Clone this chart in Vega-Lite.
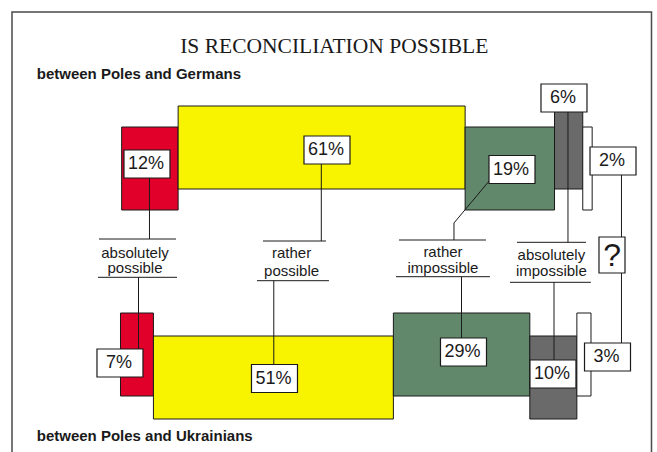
{
  "$schema": "https://vega.github.io/schema/vega-lite/v6.json",
  "width": 657,
  "height": 452,
  "autosize": {"type": "none"},
  "padding": 0,
  "background": "white",
  "view": {"stroke": null},
  "config": {"text": {"font": "Liberation Sans", "color": "#1a1a1a"}},
  "data": {
    "values": [
      {"group": "between Poles and Germans", "answer": "absolutely possible", "pct": 12, "order": 0},
      {"group": "between Poles and Germans", "answer": "rather possible", "pct": 61, "order": 1},
      {"group": "between Poles and Germans", "answer": "rather impossible", "pct": 19, "order": 2},
      {"group": "between Poles and Germans", "answer": "absolutely impossible", "pct": 6, "order": 3},
      {"group": "between Poles and Germans", "answer": "hard to say", "pct": 2, "order": 4},
      {"group": "between Poles and Ukrainians", "answer": "absolutely possible", "pct": 7, "order": 0},
      {"group": "between Poles and Ukrainians", "answer": "rather possible", "pct": 51, "order": 1},
      {"group": "between Poles and Ukrainians", "answer": "rather impossible", "pct": 29, "order": 2},
      {"group": "between Poles and Ukrainians", "answer": "absolutely impossible", "pct": 10, "order": 3},
      {"group": "between Poles and Ukrainians", "answer": "hard to say", "pct": 3, "order": 4}
    ]
  },
  "transform": [
    {"window": [{"op": "sum", "field": "pct", "as": "cum"}], "groupby": ["group"], "sort": [{"field": "order"}], "frame": [null, 0]},
    {"calculate": "datum.group === 'between Poles and Germans' ? 0 : 1", "as": "g"},
    {"calculate": "datum.g === 0 ? 0.25 : 0", "as": "shift"},
    {"calculate": "datum.cum - datum.pct + datum.shift", "as": "x0"},
    {"calculate": "datum.cum + datum.shift", "as": "x1"},
    {"calculate": "(datum.order + datum.g) % 2 === 1", "as": "up"},
    {"calculate": "datum.g === 0 ? (datum.up ? 106 : 127) : (datum.up ? 313 : 336)", "as": "y0"},
    {"calculate": "datum.y0 + 83", "as": "y1"},
    {"calculate": "datum.g === 0 ? [5.63,43.89,83.21,94.26,104.68][datum.order] : [-0.11,32.73,72.90,91.92,103.51][datum.order]", "as": "bx"},
    {"calculate": "datum.g === 0 ? [164,150,169.5,98,161][datum.order] : [363,378.5,352,374,357][datum.order]", "as": "by"},
    {"calculate": "datum.bx - 4.888", "as": "bxa"},
    {"calculate": "datum.bx + 4.888", "as": "bxb"},
    {"calculate": "datum.by - 14", "as": "bya"},
    {"calculate": "datum.by + 14", "as": "byb"},
    {"calculate": "datum.pct + '%'", "as": "label"},
    {"calculate": "datum.g === 0 ? [6.16,42.68,78.53,95.11,106.48][datum.order] : [3.83,32.58,72.48,92.14,106.48][datum.order]", "as": "lx"},
    {"calculate": "datum.g === 0 ? [6.16,42.68,70.88,95.11,106.48][datum.order] : [3.83,32.58,72.48,92.14,106.48][datum.order]", "as": "lx2"},
    {"calculate": "datum.g === 0 ? [178,164,180,112,175][datum.order] : [277.3,280.7,276.7,282.3,273][datum.order]", "as": "ly"},
    {"calculate": "datum.g === 0 ? [239,241,223,242.3,237][datum.order] : [349,364,338,360,343][datum.order]", "as": "ly2"},
    {"calculate": "datum.g === 0 ? 74 : 436", "as": "gy"}
  ],
  "layer": [
    {
      "data": {"values": [{"frame": "border"}]},
      "mark": {"type": "rect", "fillOpacity": 0, "stroke": "#4a4a4a", "strokeWidth": 1.5},
      "encoding": {
        "x": {"datum": -23.06, "type": "quantitative", "scale": {"domain": [-25.61, 114.03], "nice": false, "zero": false}, "axis": null},
        "x2": {"datum": 112.86},
        "y": {"datum": 12, "type": "quantitative", "scale": {"domain": [0, 452], "reverse": true, "nice": false, "zero": false}, "axis": null},
        "y2": {"datum": 475}
      }
    },
    {
      "data": {"values": [{"t": "IS RECONCILIATION POSSIBLE"}]},
      "mark": {"type": "text", "font": "Liberation Serif", "fontSize": 21.5, "align": "center", "baseline": "middle"},
      "encoding": {
        "x": {"datum": 45.44, "type": "quantitative", "scale": {"domain": [-25.61, 114.03], "nice": false, "zero": false}, "axis": null},
        "y": {"datum": 46.7, "type": "quantitative", "scale": {"domain": [0, 452], "reverse": true, "nice": false, "zero": false}, "axis": null},
        "text": {"field": "t"}
      }
    },
    {
      "mark": {"type": "rect", "stroke": "#1a1a1a", "strokeWidth": 1},
      "encoding": {
        "x": {"field": "x0", "type": "quantitative", "scale": {"domain": [-25.61, 114.03], "nice": false, "zero": false}, "axis": null},
        "x2": {"field": "x1"},
        "y": {"field": "y0", "type": "quantitative", "scale": {"domain": [0, 452], "reverse": true, "nice": false, "zero": false}, "axis": null},
        "y2": {"field": "y1"},
        "color": {"field": "answer", "type": "nominal", "legend": null,
          "scale": {"domain": ["absolutely possible", "rather possible", "rather impossible", "absolutely impossible", "hard to say"],
                    "range": ["#E0002A", "#F8F400", "#62886C", "#6A6A6A", "#FFFFFF"]}}
      }
    },
    {
      "mark": {"type": "rule", "color": "#1a1a1a", "strokeWidth": 1},
      "encoding": {
        "x": {"field": "lx", "type": "quantitative", "scale": {"domain": [-25.61, 114.03], "nice": false, "zero": false}, "axis": null},
        "x2": {"field": "lx2"},
        "y": {"field": "ly", "type": "quantitative", "scale": {"domain": [0, 452], "reverse": true, "nice": false, "zero": false}, "axis": null},
        "y2": {"field": "ly2"}
      }
    },
    {
      "transform": [{"filter": "datum.g === 0 && datum.order === 2"}],
      "mark": {"type": "rule", "color": "#1a1a1a", "strokeWidth": 1},
      "encoding": {
        "x": {"field": "lx2", "type": "quantitative", "scale": {"domain": [-25.61, 114.03], "nice": false, "zero": false}, "axis": null},
        "y": {"datum": 223, "type": "quantitative", "scale": {"domain": [0, 452], "reverse": true, "nice": false, "zero": false}, "axis": null},
        "y2": {"datum": 240}
      }
    },
    {
      "transform": [
        {"filter": "datum.g === 0 && datum.order < 4"},
        {"calculate": "[-4.57,30.29,59.19,84.27][datum.order]", "as": "tx1"},
        {"calculate": "[11.80,43.68,77.68,98.94][datum.order]", "as": "tx2"},
        {"calculate": "[239,241,240,242.3][datum.order]", "as": "ty"}
      ],
      "mark": {"type": "rule", "color": "#1a1a1a", "strokeWidth": 1},
      "encoding": {
        "x": {"field": "tx1", "type": "quantitative", "scale": {"domain": [-25.61, 114.03], "nice": false, "zero": false}, "axis": null},
        "x2": {"field": "tx2"},
        "y": {"field": "ty", "type": "quantitative", "scale": {"domain": [0, 452], "reverse": true, "nice": false, "zero": false}, "axis": null}
      }
    },
    {
      "transform": [
        {"filter": "datum.g === 0 && datum.order < 4"},
        {"calculate": "[-4.78,29.01,58.55,82.78][datum.order]", "as": "tx1"},
        {"calculate": "[12.01,44.31,78.53,99.98][datum.order]", "as": "tx2"},
        {"calculate": "[277.3,280.7,276.7,282.3][datum.order]", "as": "ty"}
      ],
      "mark": {"type": "rule", "color": "#1a1a1a", "strokeWidth": 1},
      "encoding": {
        "x": {"field": "tx1", "type": "quantitative", "scale": {"domain": [-25.61, 114.03], "nice": false, "zero": false}, "axis": null},
        "x2": {"field": "tx2"},
        "y": {"field": "ty", "type": "quantitative", "scale": {"domain": [0, 452], "reverse": true, "nice": false, "zero": false}, "axis": null}
      }
    },
    {
      "transform": [
        {"filter": "datum.g === 0 && datum.order < 4"},
        {"calculate": "[3.08,36.36,68.54,91.58][datum.order]", "as": "cx"},
        {"calculate": "[252.7,253.3,252,254.7][datum.order]", "as": "cy"},
        {"calculate": "split(datum.answer, ' ')[0]", "as": "word"}
      ],
      "mark": {"type": "text", "fontSize": 15, "align": "center", "baseline": "middle"},
      "encoding": {
        "x": {"field": "cx", "type": "quantitative", "scale": {"domain": [-25.61, 114.03], "nice": false, "zero": false}, "axis": null},
        "y": {"field": "cy", "type": "quantitative", "scale": {"domain": [0, 452], "reverse": true, "nice": false, "zero": false}, "axis": null},
        "text": {"field": "word"}
      }
    },
    {
      "transform": [
        {"filter": "datum.g === 0 && datum.order < 4"},
        {"calculate": "[3.08,36.36,68.54,91.58][datum.order]", "as": "cx"},
        {"calculate": "[268.3,270.7,268.3,270.7][datum.order]", "as": "cy"},
        {"calculate": "split(datum.answer, ' ')[1]", "as": "word"}
      ],
      "mark": {"type": "text", "fontSize": 15, "align": "center", "baseline": "middle"},
      "encoding": {
        "x": {"field": "cx", "type": "quantitative", "scale": {"domain": [-25.61, 114.03], "nice": false, "zero": false}, "axis": null},
        "y": {"field": "cy", "type": "quantitative", "scale": {"domain": [0, 452], "reverse": true, "nice": false, "zero": false}, "axis": null},
        "text": {"field": "word"}
      }
    },
    {
      "transform": [{"filter": "datum.g === 0 && datum.order === 4"}],
      "mark": {"type": "rect", "fill": "white", "stroke": "#1a1a1a", "strokeWidth": 1.2},
      "encoding": {
        "x": {"datum": 101.7, "type": "quantitative", "scale": {"domain": [-25.61, 114.03], "nice": false, "zero": false}, "axis": null},
        "x2": {"datum": 107.23},
        "y": {"datum": 237, "type": "quantitative", "scale": {"domain": [0, 452], "reverse": true, "nice": false, "zero": false}, "axis": null},
        "y2": {"datum": 273}
      }
    },
    {
      "transform": [{"filter": "datum.g === 0 && datum.order === 4"}, {"calculate": "'?'", "as": "q"}],
      "mark": {"type": "text", "fontSize": 32, "align": "center", "baseline": "middle"},
      "encoding": {
        "x": {"datum": 104.47, "type": "quantitative", "scale": {"domain": [-25.61, 114.03], "nice": false, "zero": false}, "axis": null},
        "y": {"datum": 256, "type": "quantitative", "scale": {"domain": [0, 452], "reverse": true, "nice": false, "zero": false}, "axis": null},
        "text": {"field": "q"}
      }
    },
    {
      "mark": {"type": "rect", "fill": "white", "stroke": "#1a1a1a", "strokeWidth": 1.2},
      "encoding": {
        "x": {"field": "bxa", "type": "quantitative", "scale": {"domain": [-25.61, 114.03], "nice": false, "zero": false}, "axis": null},
        "x2": {"field": "bxb"},
        "y": {"field": "bya", "type": "quantitative", "scale": {"domain": [0, 452], "reverse": true, "nice": false, "zero": false}, "axis": null},
        "y2": {"field": "byb"}
      }
    },
    {
      "mark": {"type": "text", "fontSize": 18, "align": "center", "baseline": "middle", "dx": -1},
      "encoding": {
        "x": {"field": "bx", "type": "quantitative", "scale": {"domain": [-25.61, 114.03], "nice": false, "zero": false}, "axis": null},
        "y": {"field": "by", "type": "quantitative", "scale": {"domain": [0, 452], "reverse": true, "nice": false, "zero": false}, "axis": null},
        "text": {"field": "label"}
      }
    },
    {
      "transform": [{"filter": "datum.order === 0"}],
      "mark": {"type": "text", "fontSize": 15, "fontWeight": "bold", "align": "left", "baseline": "middle"},
      "encoding": {
        "x": {"datum": -17.8, "type": "quantitative", "scale": {"domain": [-25.61, 114.03], "nice": false, "zero": false}, "axis": null},
        "y": {"field": "gy", "type": "quantitative", "scale": {"domain": [0, 452], "reverse": true, "nice": false, "zero": false}, "axis": null},
        "text": {"field": "group"}
      }
    }
  ]
}
